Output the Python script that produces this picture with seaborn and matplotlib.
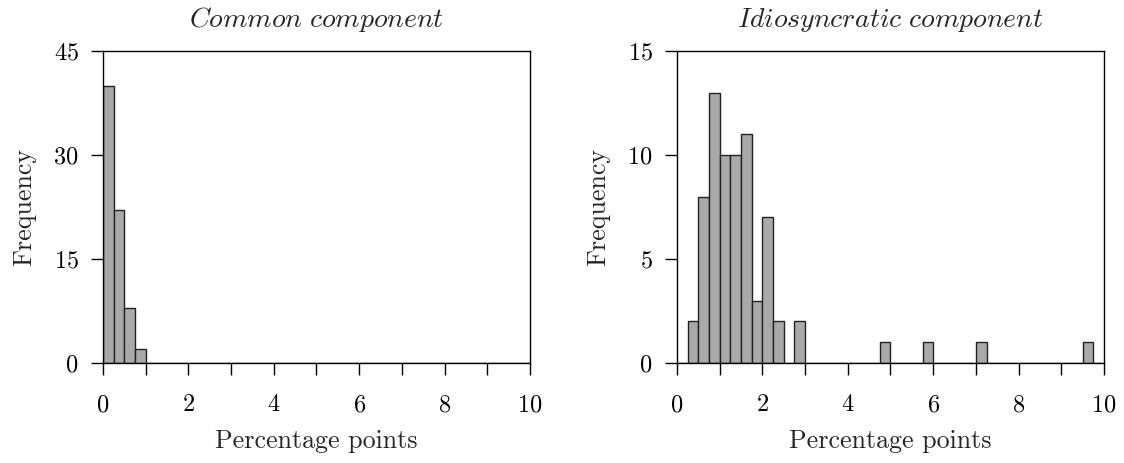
import numpy as np
import pandas as pd
import matplotlib.pyplot as plt
import seaborn as sns
from matplotlib.ticker import MultipleLocator

# ======================================
# Data: histogram bins (left edge) and counts
# ======================================

bin_width = 0.25

common_left = [0.0, 0.25, 0.5, 0.75]
common_counts = [40, 22, 8, 2]

idio_left = [0.25, 0.5, 0.75, 1.0, 1.25, 1.5, 1.75, 2.0, 2.25, 2.75,
             4.75, 5.75, 7.0, 9.5]
idio_counts = [2, 8, 13, 10, 10, 11, 3, 7, 2, 2, 1, 1, 1, 1]

titles = ['Common component', 'Idiosyncratic component']
y_max = [45, 15]
y_step = [15, 5]

# ======================================
# Style
# ======================================

sns.set_style('ticks')
plt.rcParams['font.family'] = ['cmr10', 'DejaVu Serif']
plt.rcParams['mathtext.fontset'] = 'cm'
plt.rcParams['axes.formatter.use_mathtext'] = True
plt.rcParams['axes.unicode_minus'] = False

fig = plt.figure(figsize=(11.24, 4.63), dpi=100)
ax1 = fig.add_axes([0.0916, 0.216, 0.3799, 0.674])
ax2 = fig.add_axes([0.6023, 0.216, 0.3799, 0.674])

bins = [i * bin_width for i in range(41)]

datasets = [
    pd.DataFrame({'x': [v + bin_width / 2 for v in common_left], 'n': common_counts}),
    pd.DataFrame({'x': [v + bin_width / 2 for v in idio_left], 'n': idio_counts}),
]

for ax, df, title, ymax, ystep in zip([ax1, ax2], datasets, titles, y_max, y_step):
    sns.histplot(
        data=df, x='x', weights='n', bins=bins, ax=ax,
        color='#a9a9a9', alpha=1, edgecolor='#222222'
    )
    for p in ax.patches:
        p.set_linewidth(1.0)
    ax.set_xlim(0, 10)
    ax.set_ylim(0, ymax)
    ax.xaxis.set_major_locator(MultipleLocator(2))
    ax.xaxis.set_minor_locator(MultipleLocator(1))
    ax.yaxis.set_major_locator(MultipleLocator(ystep))
    ax.tick_params(axis='both', which='both', direction='out', length=8.5,
                   width=1, colors='black', labelsize=17.5)
    ax.tick_params(axis='x', which='major', pad=14)
    ax.tick_params(axis='y', which='major', pad=9)
    for s in ax.spines.values():
        s.set_visible(True)
        s.set_linewidth(1)
        s.set_color('black')
    ax.set_title(r'$\mathit{' + title.replace(' ', r'\ ') + '}$',
                 fontsize=20, pad=17)
    ax.set_xlabel('Percentage points', fontsize=18.7, labelpad=9)
    ax.set_ylabel('Frequency', fontsize=18.7, labelpad=12)

fig.savefig('out.png', dpi=100)
